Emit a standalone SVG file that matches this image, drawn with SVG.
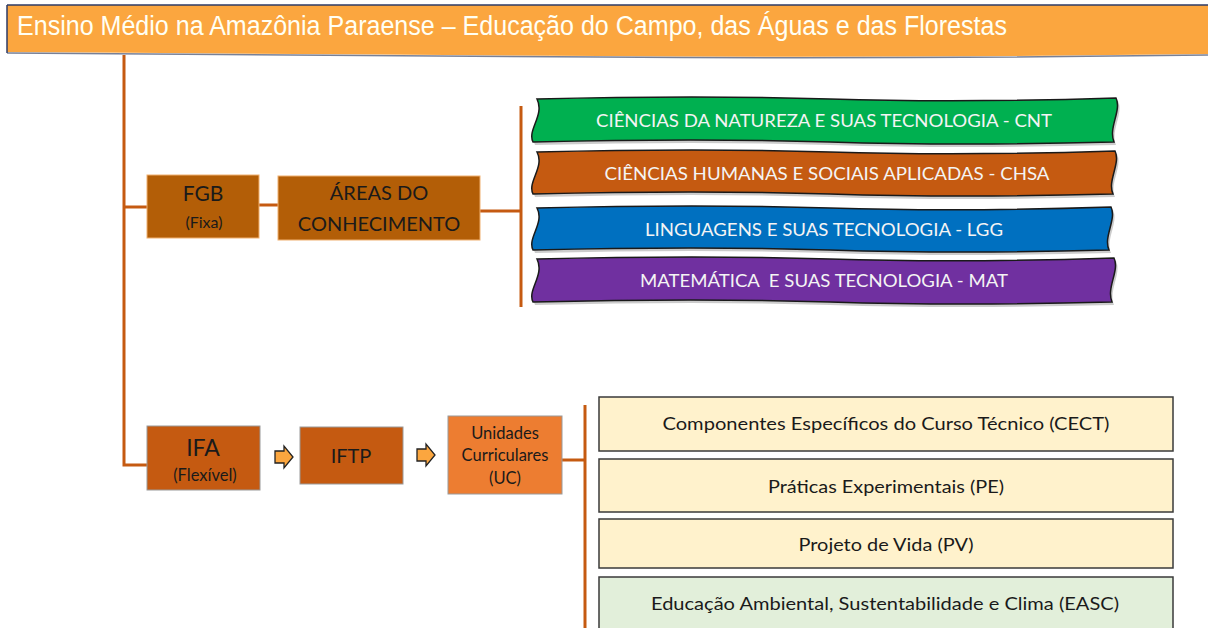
<svg xmlns="http://www.w3.org/2000/svg" width="1208" height="628" viewBox="0 0 1208 628">
<style>
.ln{stroke:#C55A11;stroke-width:3;fill:none}
.dk{font-family:Lato,"Noto Sans",sans-serif;fill:#1a1a1a;text-anchor:middle}
.wt{font-family:Lato,"Noto Sans",sans-serif;fill:#F4F4F4;text-anchor:middle;font-size:18px}
.band{stroke:#1a1a1a;stroke-width:1.5}
.sh{fill:#9a9a9a;opacity:0.5}
.bx{stroke:#3a3a3a;stroke-width:1.5}
.arr{fill:#FBA63F;stroke:#222;stroke-width:1.3}
</style>
<rect width="1208" height="628" fill="#ffffff"/>

<g id="header">
  <path d="M7 5 L1208 5 L1208 54 Q900 58 600 56 Q300 54 7 52 Z" fill="#FBA63F"/>
  <path d="M7 53 Q300 55 600 57 Q900 59 1208 55" fill="none" stroke="#3d4a6b" stroke-width="1.5" opacity="0.7"/>
  <line x1="7" y1="5" x2="1208" y2="5" stroke="#2d3a66" stroke-width="1.5"/>
  <line x1="7" y1="5" x2="7" y2="53" stroke="#2d3a66" stroke-width="1.5"/>
  <text x="17" y="35" font-family="Liberation Sans, Arial, sans-serif" font-size="27" fill="#FFFFF4" textLength="990" lengthAdjust="spacingAndGlyphs">Ensino Médio na Amazônia Paraense – Educação do Campo, das Águas e das Florestas</text>
</g>

<g id="connectors">
  <path class="ln" d="M124 55 V465 H148"/>
  <path class="ln" d="M124 207 H148"/>
  <path class="ln" d="M259 205 H279"/>
  <path class="ln" d="M480 211 H521"/>
  <path class="ln" d="M521 106 V307"/>
  <path class="ln" d="M562 460 H585"/>
  <path class="ln" d="M585 405 V628"/>
  <path class="arr" d="M275 451 H284 V446 L293 457 L284 468 V463 H275 Z"/>
  <path class="arr" d="M417 449 H426 V444 L435 455 L426 466 V461 H417 Z"/>
</g>

<g id="fgb">
  <rect x="147" y="175" width="112" height="63" fill="#B35E07" stroke="#F0B070" stroke-width="1"/>
  <text class="dk" x="203" y="201" font-size="21">FGB</text>
  <text class="dk" x="204" y="228" font-size="16">(Fixa)</text>
</g>

<g id="areas">
  <rect x="278" y="176" width="202" height="64" fill="#B35E07" stroke="#F0B070" stroke-width="1"/>
  <text class="dk" x="379" y="200" font-size="20">ÁREAS DO</text>
  <text class="dk" x="379" y="231" font-size="20">CONHECIMENTO</text>
</g>

<g id="cnt">
  <path class="sh" d="M539 102 Q700 98 830 102 T 1118 101 C 1124 113, 1110 131, 1116 145 Q960 149 830 145 T 535 145 C 529 133, 547 118, 539 102 Z"/>
  <path class="band" fill="#00B050" d="M537 99 Q700 95 830 99 T 1116 98 C 1122 110, 1108 128, 1114 142 Q960 146 830 142 T 533 142 C 527 130, 545 115, 537 99 Z"/>
  <text class="wt" x="824" y="127" textLength="456" lengthAdjust="spacingAndGlyphs">CIÊNCIAS DA NATUREZA E SUAS TECNOLOGIA - CNT</text>
</g>

<g id="chsa">
  <path class="sh" d="M539 155 Q700 151 830 155 T 1117 154 C 1123 166, 1109 184, 1115 197 Q960 201 830 197 T 535 197 C 529 185, 547 170, 539 155 Z"/>
  <path class="band" fill="#C55A11" d="M537 152 Q700 148 830 152 T 1115 151 C 1121 163, 1107 181, 1113 194 Q960 198 830 194 T 533 194 C 527 182, 545 167, 537 152 Z"/>
  <text class="wt" x="827" y="180" textLength="445" lengthAdjust="spacingAndGlyphs">CIÊNCIAS HUMANAS E SOCIAIS APLICADAS - CHSA</text>
</g>

<g id="lgg">
  <path class="sh" d="M539 211 Q700 207 830 211 T 1113 210 C 1119 222, 1105 240, 1111 253 Q960 257 830 253 T 535 253 C 529 241, 547 226, 539 211 Z"/>
  <path class="band" fill="#0070C0" d="M537 208 Q700 204 830 208 T 1111 207 C 1117 219, 1103 237, 1109 250 Q960 254 830 250 T 533 250 C 527 238, 545 223, 537 208 Z"/>
  <text class="wt" x="824" y="236" textLength="358" lengthAdjust="spacingAndGlyphs">LINGUAGENS E SUAS TECNOLOGIA - LGG</text>
</g>

<g id="mat">
  <path class="sh" d="M539 262 Q700 258 830 262 T 1116 261 C 1122 273, 1108 291, 1114 305 Q960 309 830 305 T 535 305 C 529 293, 547 278, 539 262 Z"/>
  <path class="band" fill="#7030A0" d="M537 259 Q700 255 830 259 T 1114 258 C 1120 270, 1106 288, 1112 302 Q960 306 830 302 T 533 302 C 527 290, 545 275, 537 259 Z"/>
  <text class="wt" x="824" y="287" textLength="368" lengthAdjust="spacingAndGlyphs" style="white-space:pre">MATEMÁTICA  E SUAS TECNOLOGIA - MAT</text>
</g>

<g id="ifa">
  <rect x="147" y="426" width="113" height="64" fill="#C55A11" stroke="#9a9a9a" stroke-width="1"/>
  <text class="dk" x="203" y="456" font-size="23">IFA</text>
  <text class="dk" x="205" y="481" font-size="16.5">(Flexível)</text>
</g>

<g id="iftp">
  <rect x="300" y="427" width="103" height="57" fill="#C55A11" stroke="#9a9a9a" stroke-width="1"/>
  <text class="dk" x="351" y="463" font-size="20">IFTP</text>
</g>

<g id="uc">
  <rect x="448" y="416" width="114" height="78" fill="#ED7D31" stroke="#9a9a9a" stroke-width="1"/>
  <text class="dk" x="505" y="439" font-size="16.5">Unidades</text>
  <text class="dk" x="505" y="461" font-size="16.5">Curriculares</text>
  <text class="dk" x="505" y="484" font-size="16.5">(UC)</text>
</g>

<g id="cect">
  <rect class="bx" x="599" y="397" width="574" height="54" fill="#FFF2CC"/>
  <text class="dk" x="886" y="430" font-size="18" textLength="447" lengthAdjust="spacingAndGlyphs">Componentes Específicos do Curso Técnico (CECT)</text>
</g>

<g id="pe">
  <rect class="bx" x="599" y="459" width="574" height="53" fill="#FFF2CC"/>
  <text class="dk" x="886" y="493" font-size="18" textLength="236" lengthAdjust="spacingAndGlyphs">Práticas Experimentais (PE)</text>
</g>

<g id="pv">
  <rect class="bx" x="599" y="519" width="574" height="49" fill="#FFF2CC"/>
  <text class="dk" x="886" y="551" font-size="18" textLength="175" lengthAdjust="spacingAndGlyphs">Projeto de Vida (PV)</text>
</g>

<g id="easc">
  <rect class="bx" x="599" y="577" width="574" height="60" fill="#E2EFDA"/>
  <text class="dk" x="885" y="610" font-size="18" textLength="468" lengthAdjust="spacingAndGlyphs">Educação Ambiental, Sustentabilidade e Clima (EASC)</text>
</g>
</svg>
